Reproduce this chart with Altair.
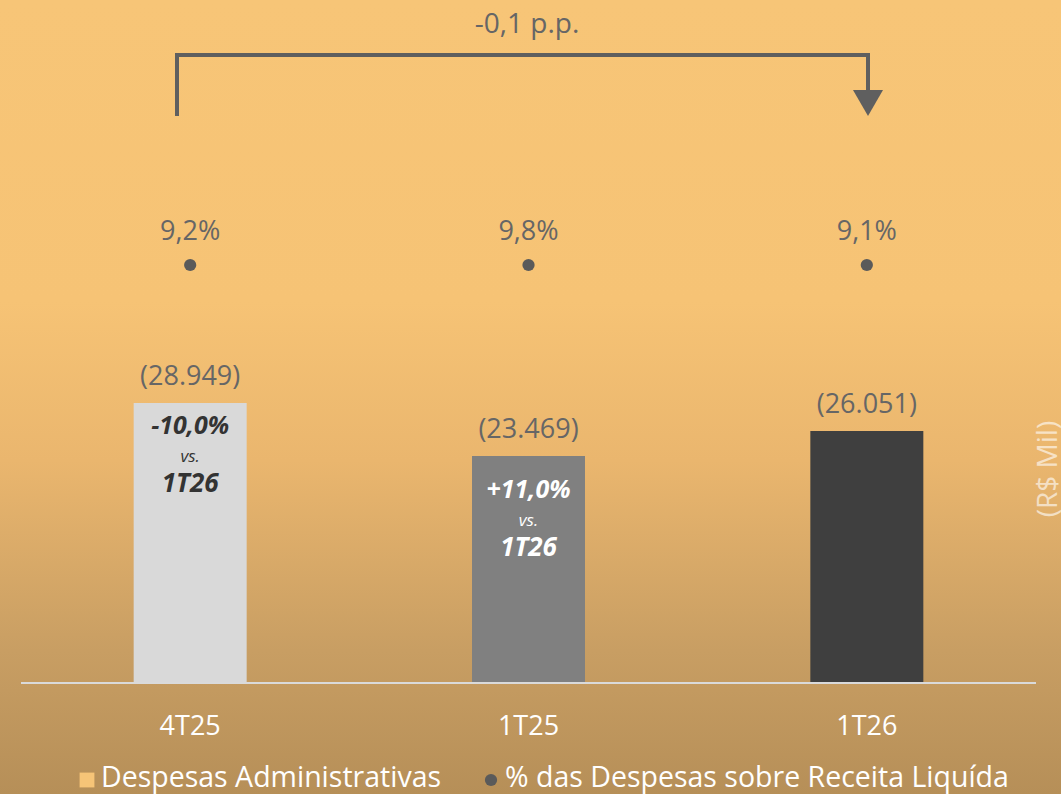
import altair as alt
import pandas as pd

# ---- data ----
categorias = ["4T25", "1T25", "1T26"]
despesas = [28949, 23469, 26051]
despesas_txt = ["(28.949)", "(23.469)", "(26.051)"]
pct_receita = [9.2, 9.8, 9.1]
pct_txt = ["9,2%", "9,8%", "9,1%"]
cores_barras = ["#D9D9D9", "#808080", "#3F3F3F"]
var_txt = ["-10,0%", "+11,0%", ""]
var_cor = ["#333333", "#FFFFFF", "#FFFFFF"]
variacao_pp = "-0,1 p.p."
unidade = "(R$ Mil)"
legenda = ["Despesas Administrativas", "% das Despesas sobre Receita Liquída"]

W, H = 1061, 794
FONT = "Open Sans"
GRAY_TXT = "#666666"

df = pd.DataFrame({
    "cat": categorias,
    "valor": despesas,
    "valor_txt": despesas_txt,
    "pct": pct_receita,
    "pct_txt": pct_txt,
    "cor": cores_barras,
    "var": var_txt,
    "var_cor": var_cor,
})

x_enc = alt.X("cat:N", sort=categorias, axis=None,
              scale=alt.Scale(range=[21, 1036], paddingInner=0.666, paddingOuter=0.333))
y_scale = alt.Scale(domain=[-11476, 70616], nice=False, zero=False)
y_enc = alt.Y("valor:Q", axis=None, scale=y_scale)

base = alt.Chart(df).encode(x=x_enc)

# background gradient
bg = alt.Chart(pd.DataFrame({"a": [0]})).mark_rect(
    color=alt.Gradient(
        gradient="linear", x1=0, x2=0, y1=0, y2=1,
        stops=[
            alt.GradientStop(color="#F7C577", offset=0),
            alt.GradientStop(color="#F6C375", offset=0.38),
            alt.GradientStop(color="#EAB66E", offset=0.58),
            alt.GradientStop(color="#C89E63", offset=0.82),
            alt.GradientStop(color="#B68F58", offset=1),
        ],
    )
).encode(x=alt.value(0), x2=alt.value(W), y=alt.value(0), y2=alt.value(H))

bars = base.mark_bar(size=113).encode(
    y=y_enc, y2=alt.datum(0), color=alt.Color("cor:N", scale=None)
)

baseline = alt.Chart(pd.DataFrame({"a": [0]})).mark_rule(
    color="#DADADA", strokeWidth=2
).encode(x=alt.value(21), x2=alt.value(1036), y=alt.Y("a:Q", scale=y_scale, axis=None))

val_labels = base.mark_text(fontSize=27, font=FONT, color=GRAY_TXT, dy=-26).encode(
    y=y_enc, text="valor_txt:N"
)

def inbar(cat, dy0):
    sub = base.transform_filter(alt.datum.cat == cat)
    t1 = sub.mark_text(fontSize=25, font=FONT, fontWeight="bold", fontStyle="italic", dy=dy0).encode(
        y=y_enc, text="var:N", color=alt.Color("var_cor:N", scale=None))
    t2 = sub.mark_text(fontSize=17, font=FONT, fontStyle="italic", dy=dy0 + 31).encode(
        y=y_enc, text=alt.value("vs."), color=alt.Color("var_cor:N", scale=None))
    t3 = sub.mark_text(fontSize=26, font=FONT, fontWeight="bold", fontStyle="italic", dy=dy0 + 58).encode(
        y=y_enc, text=alt.value("1T26"), color=alt.Color("var_cor:N", scale=None))
    return [t1, t2, t3]

dots = base.mark_point(filled=True, opacity=1, size=150, color="#5A5A5A").encode(y=alt.value(265))
pct_labels = base.mark_text(fontSize=27, font=FONT, color=GRAY_TXT).encode(
    y=alt.value(232), text="pct_txt:N"
)
cat_labels = base.mark_text(fontSize=27, font=FONT, color="#FFFFFF").encode(
    y=alt.value(727), text="cat:N"
)

one = pd.DataFrame({"a": [0]})
ARROW = "#5F5F5F"
rule_l = alt.Chart(one).mark_rule(color=ARROW, strokeWidth=4, strokeCap="square").encode(
    x=alt.value(177), y=alt.value(55), y2=alt.value(114))
rule_h = alt.Chart(one).mark_rule(color=ARROW, strokeWidth=4, strokeCap="square").encode(
    x=alt.value(177), x2=alt.value(868), y=alt.value(55))
rule_r = alt.Chart(one).mark_rule(color=ARROW, strokeWidth=4, strokeCap="square").encode(
    x=alt.value(868), y=alt.value(55), y2=alt.value(92))
arrow_head = alt.Chart(one).mark_point(shape="triangle-down", filled=True, opacity=1,
                                       size=900, color=ARROW).encode(
    x=alt.value(868), y=alt.value(103))
pp_text = alt.Chart(one).mark_text(fontSize=28, font=FONT, color=GRAY_TXT).encode(
    x=alt.value(527), y=alt.value(25), text=alt.value(variacao_pp))

unit_text = alt.Chart(one).mark_text(fontSize=28, font=FONT, color="#FFFFFF", opacity=0.6,
                                     angle=270).encode(
    x=alt.value(1049), y=alt.value(469), text=alt.value(unidade))

leg_sq = alt.Chart(one).mark_point(shape="square", filled=True, opacity=1, size=220,
                                   color="#F6C477").encode(x=alt.value(87), y=alt.value(780))
leg_t1 = alt.Chart(one).mark_text(fontSize=28.5, font=FONT, color="#FFFFFF", align="left").encode(
    x=alt.value(101), y=alt.value(778), text=alt.value(legenda[0]))
leg_c = alt.Chart(one).mark_point(shape="circle", filled=True, opacity=1, size=150,
                                  color="#5A5A5A").encode(x=alt.value(491), y=alt.value(780))
leg_t2 = alt.Chart(one).mark_text(fontSize=28.5, font=FONT, color="#FFFFFF", align="left").encode(
    x=alt.value(505), y=alt.value(778), text=alt.value(legenda[1]))

layers = [bg, bars, baseline, val_labels] + inbar("4T25", 23) + inbar("1T25", 34) + [
    dots, pct_labels, cat_labels, rule_l, rule_h, rule_r, arrow_head, pp_text,
    unit_text, leg_sq, leg_t1, leg_c, leg_t2]

chart = alt.layer(*layers).properties(
    width=W, height=H, padding=0,
    autosize=alt.AutoSizeParams(type="none"),
).configure_view(stroke=None).configure(background="#B68F58")

chart.save("out.html", embed_options={"renderer": "svg", "actions": False})
